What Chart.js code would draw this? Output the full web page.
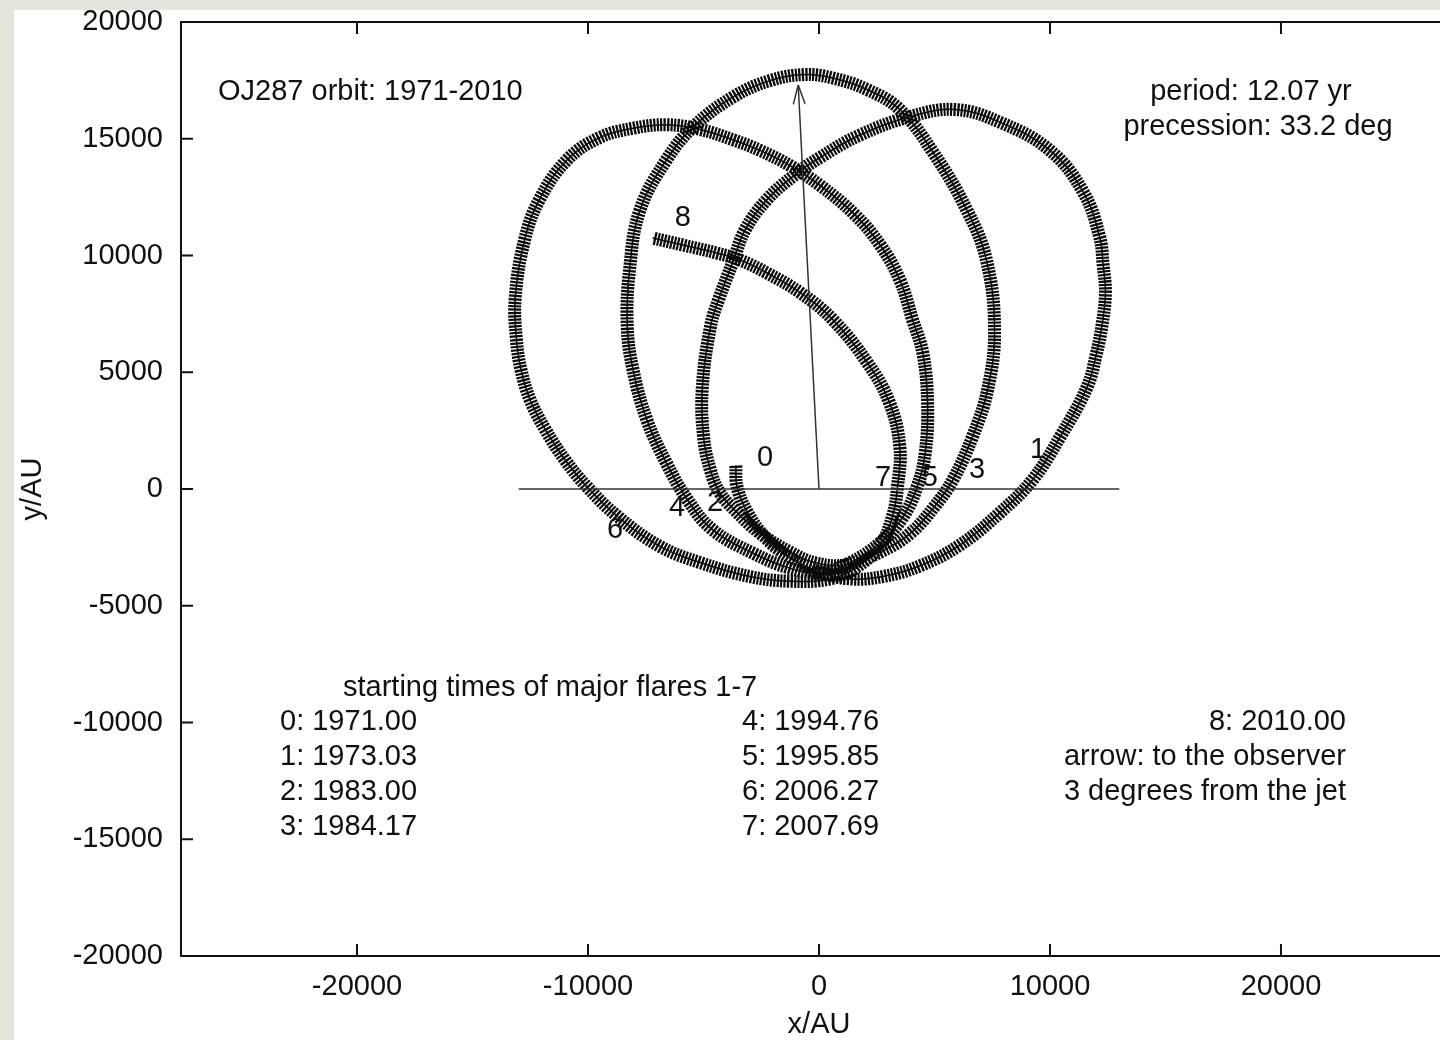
<!DOCTYPE html>
<html>
<head>
<meta charset="utf-8">
<script src="https://cdn.jsdelivr.net/npm/chart.js@4.4.1/dist/chart.umd.min.js"></script>
<style>
  html, body { margin: 0; padding: 0; overflow: hidden; background: #e3e4dc; }
  #sheet { position: absolute; left: 14px; top: 10px; width: 1500px; height: 1100px; background: #fff; }
  #wrap { position: absolute; left: 0; top: 0; width: 1480px; height: 1040px; }
</style>
</head>
<body>
<div id="sheet"></div>
<div id="wrap"><canvas id="orbit" width="1480" height="1040"></canvas></div>
<script>
const FONT = "'Liberation Sans', Arial, Helvetica, sans-serif";
const INK = "#111";

const X_RANGE = [-27620, 27620];
const Y_RANGE = [-20000, 20000];
const X_TICKS = [-20000, -10000, 0, 10000, 20000];
const Y_TICKS = [-20000, -15000, -10000, -5000, 0, 5000, 10000, 15000, 20000];

// orbit, AU, one list per revolution
const ORBIT_1971 = [
  [-3600, 1000], [-3550, 100], [-3100, -1000], [-2300, -2100], [-1250, -2950], [0, -3550],
  [1350, -3850], [2750, -3750], [4350, -3300], [6100, -2400], [7850, -1000], [9250, 400],
  [10450, 2250], [11600, 4350], [12000, 5750], [12250, 7000], [12400, 8400], [12300, 9600],
  [12150, 10800], [11450, 12700], [10000, 14500], [7850, 15700], [5900, 16250], [3950, 15950],
  [1750, 15150], [50, 14200], [-1050, 13450], [-2250, 12400], [-3200, 11100], [-3700, 9800],
  [-4350, 8100], [-4700, 6950], [-5050, 4350], [-5000, 2250], [-4700, 800], [-4300, -150],
  [-3650, -900], [-2550, -1900], [-1250, -2700], [-200, -3150],
];
const ORBIT_1983 = [
  [1100, -3250], [2650, -2700], [3950, -1900], [5000, -750], [5800, 400], [6650, 2250],
  [7300, 4250], [7600, 6800], [7250, 9800], [6400, 11950], [4950, 14400], [3500, 16250],
  [2100, 17100], [600, 17600], [-600, 17750], [-2100, 17500], [-3700, 16800], [-5450, 15500],
  [-6600, 14100], [-7750, 11950], [-8200, 9400], [-8300, 6950], [-8050, 5100], [-7450, 2950],
  [-6600, 1100], [-5700, -450], [-4600, -1750], [-2850, -2750], [-1250, -3400], [50, -3600],
];
const ORBIT_1995 = [
  [1350, -3150], [2650, -2300], [3600, -1250], [4250, 100], [4600, 1550], [4700, 3700],
  [4500, 5800], [4050, 7250], [3500, 8950], [2650, 10450], [1550, 11750], [50, 13000],
  [-1250, 13850], [-2550, 14500], [-3700, 14950], [-5150, 15400], [-6600, 15600], [-8050, 15450],
  [-9500, 15050], [-10900, 14100], [-12100, 12400], [-12750, 10650], [-13150, 8200], [-13100, 6400],
  [-12900, 5100], [-12500, 3800], [-11850, 2550], [-11000, 1250], [-10050, 100], [-8750, -1150],
  [-6900, -2450], [-5150, -3150], [-3000, -3750], [-1250, -3950], [500, -3850],
];
const ORBIT_2007 = [
  [1550, -3400], [2650, -2400], [3200, -1100], [3400, 100], [3500, 1800], [3050, 3700],
  [2100, 5400], [600, 7250], [-800, 8400], [-2250, 9250], [-3400, 9800], [-4400, 10100],
  [-5900, 10450], [-7200, 10750],
];

const BASELINE_X = [-13000, 13000];
const BASELINE_Y = [0, 0];
const ARROW_X = [0, -900];
const ARROW_Y = [0, 17300];

const FLARE_LABELS = ["8", "0", "7", "5", "3", "1", "4", "2", "6"];
const FLARE_X = [-5900, -2340, 2770, 4800, 6840, 9480, -6150, -4500, -8830];
const FLARE_Y = [11600, 1330, 470, 470, 810, 1670, -810, -600, -1760];

const pts = (list) => list.map(([x, y]) => ({ x, y }));
const orbitData = pts([...ORBIT_1971, ...ORBIT_1983, ...ORBIT_1995, ...ORBIT_2007]);

/* ---------------- annotations ---------------- */

const decor = {
  id: "decor",
  afterDraw(chart) {
    const { ctx, chartArea: a, scales } = chart;
    const xs = scales.x, ys = scales.y;
    ctx.save();

    // frame + inward ticks
    ctx.strokeStyle = INK;
    ctx.lineWidth = 2;
    ctx.strokeRect(a.left, a.top, a.right - a.left, a.bottom - a.top);
    ctx.beginPath();
    for (const v of X_TICKS) {
      const px = xs.getPixelForValue(v);
      ctx.moveTo(px, a.bottom); ctx.lineTo(px, a.bottom - 12);
      ctx.moveTo(px, a.top); ctx.lineTo(px, a.top + 12);
    }
    for (const v of Y_TICKS) {
      const py = ys.getPixelForValue(v);
      ctx.moveTo(a.left, py); ctx.lineTo(a.left + 12, py);
      ctx.moveTo(a.right, py); ctx.lineTo(a.right - 12, py);
    }
    ctx.stroke();

    // arrow head
    const tx = xs.getPixelForValue(ARROW_X[1]), ty = ys.getPixelForValue(ARROW_Y[1]);
    const bx = xs.getPixelForValue(ARROW_X[0]), by = ys.getPixelForValue(ARROW_Y[0]);
    const ang = Math.atan2(by - ty, bx - tx);
    ctx.lineWidth = 1.5;
    ctx.strokeStyle = "#333";
    ctx.beginPath();
    for (const s of [-1, 1]) {
      ctx.moveTo(tx, ty);
      ctx.lineTo(tx + 20 * Math.cos(ang + s * 0.3), ty + 20 * Math.sin(ang + s * 0.3));
    }
    ctx.stroke();

    // text
    ctx.fillStyle = INK;
    ctx.font = `29px ${FONT}`;
    ctx.textBaseline = "middle";
    ctx.textAlign = "center";
    FLARE_LABELS.forEach((t, i) => {
      ctx.fillText(t, xs.getPixelForValue(FLARE_X[i]), ys.getPixelForValue(FLARE_Y[i]));
    });

    const put = (t, x, y, align) => { ctx.textAlign = align; ctx.fillText(t, x, y); };
    put("OJ287 orbit: 1971-2010", 218, 92, "left");
    put("period: 12.07 yr", 1251, 92, "center");
    put("precession: 33.2 deg", 1258, 127, "center");
    put("starting times of major flares 1-7", 343, 688, "left");
    const rows = [722, 757, 792, 827];
    ["0: 1971.00", "1: 1973.03", "2: 1983.00", "3: 1984.17"].forEach((t, i) => put(t, 280, rows[i], "left"));
    ["4: 1994.76", "5: 1995.85", "6: 2006.27", "7: 2007.69"].forEach((t, i) => put(t, 742, rows[i], "left"));
    ["8: 2010.00", "arrow: to the observer", "3 degrees from the jet"].forEach((t, i) => put(t, 1346, rows[i], "right"));
    put("x/AU", 819, 1025, "center");

    ctx.translate(33, 489);
    ctx.rotate(-Math.PI / 2);
    put("y/AU", 0, 0, "center");
    ctx.restore();
  },
};

/* ---------------- chart ---------------- */

const tickFont = { family: FONT, size: 29 };

new Chart(document.getElementById("orbit"), {
  type: "scatter",
  data: {
    datasets: [
      {
        data: pts(BASELINE_X.map((x, i) => [x, BASELINE_Y[i]])),
        showLine: true, borderColor: "#333", borderWidth: 1.5, pointRadius: 0,
      },
      {
        data: pts(ARROW_X.map((x, i) => [x, ARROW_Y[i]])),
        showLine: true, borderColor: "#333", borderWidth: 1.5, pointRadius: 0,
      },
      {
        // dense "+" markers: hatched band
        data: orbitData,
        showLine: true, borderColor: "#0a0a0a", borderWidth: 13,
        borderDash: [2.2, 1.2], borderCapStyle: "butt", tension: 0.4, pointRadius: 0,
      },
      {
        data: orbitData,
        showLine: true, borderColor: INK, borderWidth: 1.5, tension: 0.4, pointRadius: 0,
      },
    ],
  },
  options: {
    responsive: false,
    animation: false,
    devicePixelRatio: 1,
    layout: { padding: { top: 22, right: 23, left: 0, bottom: 0 } },
    plugins: { legend: { display: false }, tooltip: { enabled: false } },
    scales: {
      x: {
        type: "linear", min: X_RANGE[0], max: X_RANGE[1],
        afterBuildTicks: (s) => { s.ticks = X_TICKS.map((value) => ({ value })); },
        afterFit: (s) => { s.height = 84; s.paddingLeft = 0; s.paddingRight = 0; },
        grid: { display: false, drawTicks: false },
        border: { display: false },
        ticks: { font: tickFont, color: INK, padding: 14, maxRotation: 0, callback: (v) => String(v) },
      },
      y: {
        type: "linear", min: Y_RANGE[0], max: Y_RANGE[1],
        afterBuildTicks: (s) => { s.ticks = Y_TICKS.map((value) => ({ value })); },
        afterFit: (s) => { s.width = 181; s.paddingTop = 0; s.paddingBottom = 0; },
        grid: { display: false, drawTicks: false },
        border: { display: false },
        ticks: { font: tickFont, color: INK, padding: 18, callback: (v) => String(v) },
      },
    },
  },
  plugins: [decor],
});
</script>
</body>
</html>
